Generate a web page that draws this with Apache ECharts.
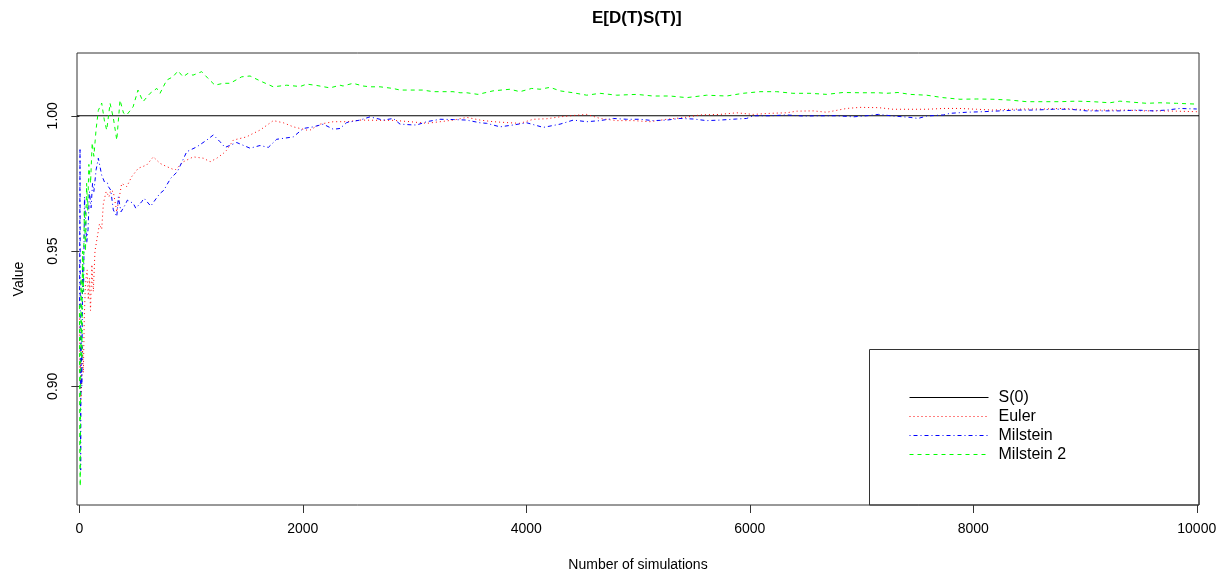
<!DOCTYPE html>
<html lang="en">
<head>
    <meta charset="UTF-8">
    <title>E[D(T)S(T)]</title>
    <script src="https://cdn.jsdelivr.net/npm/echarts@6/dist/echarts.min.js"></script>
    <style>
        html, body { margin: 0; padding: 0; background: #fff; }
        #main { width: 1228px; height: 581px; }
    </style>
</head>
<body>
<div id="main"></div>
<script type="text/javascript">
    // values (number of simulations, running mean)
    var s0Value = 1.0;
    var xTicks = [0, 2000, 4000, 6000, 8000, 10000];
    var yTicks = [0.90, 0.95, 1.00];

    var eulerSims = [2, 6, 10, 14, 20, 28, 36, 44, 52, 60, 70, 80, 90, 100, 112, 125, 140, 160, 180, 200,
        215, 240, 265, 281, 304, 335, 379, 424, 469, 528, 603, 662, 722, 782, 856, 931, 1020, 1110, 1170, 1230,
        1289, 1319, 1378, 1498, 1528, 1617, 1736, 1826, 1915, 1975, 2035, 2065, 2154, 2273, 2393, 2512, 2691, 2810, 2959, 3109,
        3228, 3347, 3467, 3586, 3705, 3854, 3943, 4063, 4183, 4302, 4421, 4541, 4660, 4809, 4958, 5107, 5256, 5405, 5554, 5733,
        5882, 6031, 6181, 6330, 6420, 6569, 6688, 6867, 6986, 7150, 7284, 7434, 7583, 7732, 7881, 8031, 8180, 8328, 8478, 8627,
        8776, 8925, 9074, 9223, 9372, 9521, 9671, 9820, 10000];
    var eulerVals = [0.925, 0.905, 0.91, 0.895, 0.90, 0.915, 0.905, 0.925, 0.935, 0.94, 0.943, 0.932, 0.94, 0.928, 0.945, 0.935, 0.95, 0.955, 0.96, 0.958,
        0.9676, 0.972, 0.97, 0.9725, 0.9719, 0.9645, 0.975, 0.9738, 0.9775, 0.9806, 0.9818, 0.9848, 0.9824, 0.9812, 0.9799, 0.983, 0.9848, 0.9843, 0.983, 0.9843,
        0.9861, 0.9873, 0.991, 0.9922, 0.9929, 0.9947, 0.9982, 0.9974, 0.9959, 0.9953, 0.9947, 0.9947, 0.9969, 0.9978, 0.9978, 0.9984, 0.9983, 0.9983, 0.9978, 0.9972,
        0.9978, 0.9984, 0.9994, 0.9984, 0.9978, 0.9974, 0.9972, 0.9987, 0.9989, 0.9996, 1.0001, 1.0005, 0.999, 0.9982, 0.9982, 0.9978, 0.9987, 0.9993, 1.0003, 1.0005,
        1.0011, 1.0005, 1.0009, 1.0011, 1.0017, 1.0018, 1.0013, 1.0027, 1.0031, 1.003, 1.0024, 1.0024, 1.0024, 1.0027, 1.0027, 1.0024, 1.0021, 1.0024, 1.0025, 1.0025,
        1.0027, 1.0024, 1.0021, 1.0021, 1.0021, 1.0018, 1.0018, 1.0017, 1.0015];

    var milsteinSims = [2, 6, 9, 12, 16, 22, 30, 38, 46, 55, 66, 78, 90, 105, 118, 130, 150, 170, 200, 225,
        251, 260, 281, 304, 335, 349, 373, 409, 430, 483, 505, 558, 579, 639, 698, 722, 758, 782, 818, 877,
        961, 1051, 1140, 1199, 1259, 1304, 1408, 1528, 1617, 1691, 1766, 1885, 1915, 2004, 2094, 2183, 2273, 2333, 2393, 2512,
        2601, 2720, 2810, 2870, 2989, 3019, 3109, 3228, 3347, 3467, 3586, 3646, 3765, 3884, 4004, 4152, 4302, 4421, 4541, 4660,
        4779, 4898, 5017, 5136, 5256, 5375, 5494, 5614, 5733, 5882, 5972, 6031, 6181, 6330, 6479, 6628, 6778, 6927, 7046, 7150,
        7284, 7434, 7505, 7583, 7732, 7792, 7941, 8090, 8240, 8389, 8538, 8717, 8866, 9015, 9163, 9312, 9461, 9610, 9729, 9848, 10000];
    var milsteinVals = [0.93, 0.988, 0.90, 0.869, 0.92, 0.90, 0.945, 0.935, 0.97, 0.962, 0.953, 0.958, 0.972, 0.966, 0.975, 0.972, 0.98, 0.9843, 0.978, 0.9755,
        0.9752, 0.9738, 0.9725, 0.9652, 0.9627, 0.97, 0.9645, 0.967, 0.9688, 0.9676, 0.9658, 0.9682, 0.9695, 0.9666, 0.97, 0.9713, 0.9725, 0.9744, 0.9769, 0.9793,
        0.9867, 0.9885, 0.991, 0.9929, 0.9904, 0.9883, 0.9901, 0.988, 0.989, 0.9883, 0.9913, 0.992, 0.9922, 0.9953, 0.9959, 0.9969, 0.995, 0.9953, 0.9975, 0.9984,
        0.9996, 0.9984, 0.999, 0.9969, 0.9966, 0.9966, 0.9978, 0.9987, 0.9986, 0.9984, 0.9974, 0.9972, 0.9959, 0.9966, 0.9974, 0.9957, 0.9969, 0.9984, 0.9978, 0.9982,
        0.999, 0.9987, 0.9987, 0.9982, 0.9984, 0.999, 0.9988, 0.9982, 0.9984, 0.9988, 0.999, 1.0, 1.0, 1.0003, 0.9999, 1.0, 1.0, 0.9996, 1.0, 1.0005,
        0.9999, 0.9994, 0.999, 0.9999, 1.0003, 1.0009, 1.0013, 1.0015, 1.0018, 1.0021, 1.0021, 1.0024, 1.0024, 1.0018, 1.0018, 1.0018, 1.0021, 1.0018, 1.0021, 1.0027, 1.0025];

    var milstein2Sims = [1, 4, 8, 12, 16, 22, 28, 35, 45, 55, 65, 75, 85, 100, 115, 130, 150, 170, 200, 225,
        245, 275, 305, 335, 364, 395, 424, 481, 525, 570, 633, 693, 722, 782, 838, 883, 928, 973, 1017, 1095,
        1152, 1196, 1214, 1286, 1349, 1375, 1453, 1465, 1528, 1617, 1736, 1856, 1975, 2035, 2124, 2243, 2333, 2360, 2449, 2539,
        2601, 2691, 2807, 2870, 2930, 3019, 3076, 3165, 3228, 3288, 3344, 3407, 3467, 3568, 3702, 3854, 3943, 4048, 4123, 4212,
        4302, 4418, 4541, 4660, 4809, 4988, 5134, 5286, 5435, 5614, 5793, 5939, 6091, 6241, 6386, 6539, 6688, 6834, 6986, 7147,
        7225, 7326, 7434, 7583, 7729, 7881, 8031, 8176, 8328, 8478, 8624, 8776, 8925, 9071, 9223, 9312, 9429, 9552, 9671, 9820, 10000];
    var milstein2Vals = [0.93, 0.875, 0.863, 0.905, 0.94, 0.91, 0.95, 0.935, 0.965, 0.95, 0.975, 0.965, 0.982, 0.975, 0.99, 0.985, 0.995, 1.002, 1.0047, 0.998,
        0.9947, 1.0046, 0.999, 0.991, 1.0058, 1.001, 1.0003, 1.0033, 1.0095, 1.0052, 1.0083, 1.0101, 1.0083, 1.0132, 1.0144, 1.0166, 1.0144, 1.0157, 1.015, 1.0163,
        1.0138, 1.012, 1.0113, 1.012, 1.012, 1.0126, 1.0144, 1.0147, 1.0147, 1.0129, 1.0107, 1.0113, 1.0108, 1.0117, 1.0112, 1.0103, 1.0113, 1.011, 1.012, 1.011,
        1.0107, 1.0107, 1.0101, 1.0095, 1.0095, 1.0095, 1.0095, 1.0089, 1.0089, 1.0089, 1.0089, 1.0085, 1.0085, 1.0079, 1.0092, 1.0098, 1.0089, 1.0101, 1.0098, 1.0105,
        1.0092, 1.0085, 1.0076, 1.0083, 1.0076, 1.0079, 1.0073, 1.0073, 1.0067, 1.0076, 1.0073, 1.0083, 1.0089, 1.0089, 1.0083, 1.0083, 1.0079, 1.0086, 1.0085, 1.0085,
        1.0083, 1.0086, 1.0079, 1.0076, 1.0067, 1.0061, 1.0062, 1.0061, 1.0058, 1.0052, 1.0052, 1.0052, 1.0054, 1.0052, 1.0048, 1.0054, 1.005, 1.0046, 1.0048, 1.0046, 1.0043];

    var xMin = -21, xMax = 10020;
    var yMin = 0.8561, yMax = 1.0232;

    function zip(xs, ys) {
        return xs.map(function (x, i) { return [x, ys[i]]; });
    }

    var font = 'Liberation Sans, Arial, Helvetica, sans-serif';

    var myChart = echarts.init(document.getElementById('main'), null, {renderer: 'canvas'});
    myChart.setOption({
        animation: false,
        backgroundColor: '#fff',
        title: {
            text: 'E[D(T)S(T)]',
            left: 587,
            top: 5,
            textStyle: {fontFamily: font, fontSize: 17, fontWeight: 'bold', color: '#000'}
        },
        grid: {
            left: 77, top: 53, right: 29, bottom: 76,
            show: true, borderColor: '#333', borderWidth: 1,
            containLabel: false, outerBoundsMode: 'none'
        },
        legend: {
            orient: 'vertical',
            left: 909, top: 388,
            itemWidth: 79, itemHeight: 19, itemGap: 0,
            padding: 0,
            // line-only keys, no marker in the middle
            itemStyle: {opacity: 0},
            lineStyle: {width: 1},
            data: ['S(0)', 'Euler', 'Milstein', 'Milstein 2'],
            textStyle: {fontFamily: font, fontSize: 16, color: '#000', lineHeight: 19, padding: [0, 0, 0, 5]}
        },
        graphic: [{
            type: 'rect',
            shape: {x: 869.5, y: 349.5, width: 329.5, height: 155.5},
            style: {fill: null, stroke: '#333', lineWidth: 1},
            z: 5
        }],
        xAxis: {
            type: 'value',
            min: xMin, max: xMax,
            name: 'Number of simulations',
            nameLocation: 'middle',
            nameGap: 53,
            nameTextStyle: {fontFamily: font, fontSize: 14, color: '#000'},
            axisLine: {show: false},
            splitLine: {show: false},
            axisTick: {show: true, length: 8, customValues: xTicks, lineStyle: {color: '#333'}},
            axisLabel: {
                customValues: xTicks, margin: 17,
                fontFamily: font, fontSize: 14, color: '#000',
                formatter: function (v) { return String(v); }
            }
        },
        yAxis: {
            type: 'value',
            min: yMin, max: yMax,
            name: 'Value',
            nameLocation: 'middle',
            nameGap: 51,
            nameTextStyle: {fontFamily: font, fontSize: 14, color: '#000'},
            axisLine: {show: false},
            splitLine: {show: false},
            axisTick: {show: true, length: 8, customValues: yTicks, lineStyle: {color: '#333'}},
            axisLabel: {
                customValues: yTicks, margin: 17, rotate: 90,
                fontFamily: font, fontSize: 14, color: '#000',
                formatter: function (v) { return v.toFixed(2); }
            }
        },
        series: [{
            name: 'S(0)',
            type: 'line',
            symbol: 'none',
            color: '#000',
            lineStyle: {color: '#000', width: 1.2, type: 'solid'},
            data: [[xMin, s0Value], [xMax, s0Value]]
        }, {
            name: 'Euler',
            type: 'line',
            symbol: 'none',
            color: '#ff0000',
            lineStyle: {color: '#ff0000', width: 1, type: [1, 3]},
            data: zip(eulerSims, eulerVals)
        }, {
            name: 'Milstein',
            type: 'line',
            symbol: 'none',
            color: '#0000ff',
            lineStyle: {color: '#0000ff', width: 1, type: [1, 3, 4, 3]},
            data: zip(milsteinSims, milsteinVals)
        }, {
            name: 'Milstein 2',
            type: 'line',
            symbol: 'none',
            color: '#00ff00',
            lineStyle: {color: '#00ff00', width: 1, type: [4, 4]},
            data: zip(milstein2Sims, milstein2Vals)
        }]
    });
</script>
</body>
</html>
